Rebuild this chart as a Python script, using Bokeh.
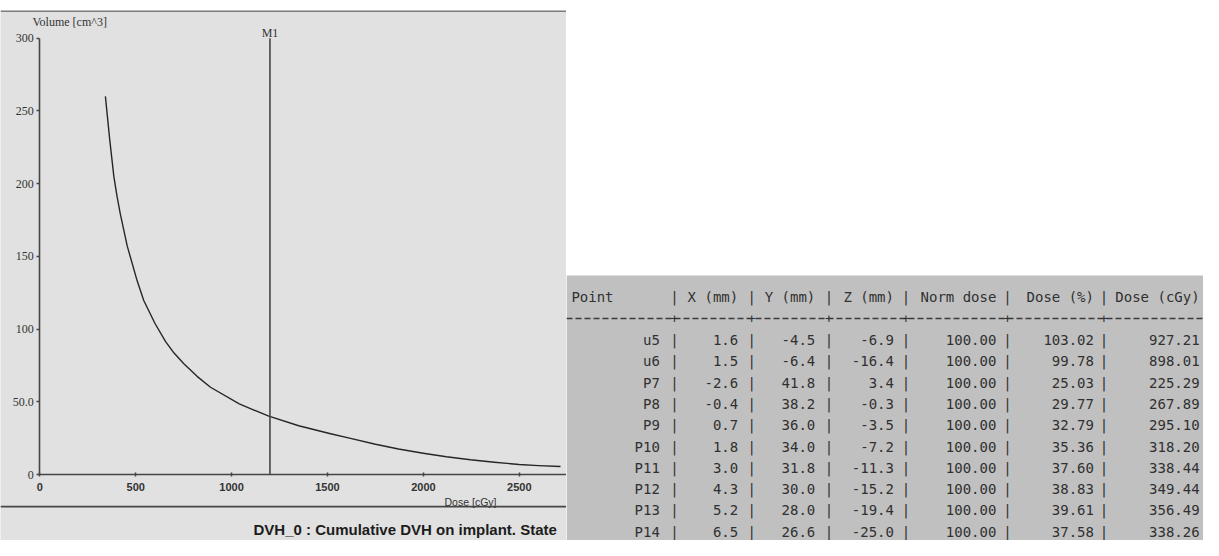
from bokeh.plotting import figure
from bokeh.models import Range1d, FixedTicker, Span, Label, ColumnDataSource
from bokeh.layouts import row
from bokeh.embed import file_html
from bokeh.resources import INLINE
from bokeh.core.properties import value

# ---------------- data ----------------
dose_cgy = [342, 364, 386, 403, 420, 456, 508, 542, 600, 655, 700, 751, 820, 890,
            1040, 1194, 1350, 1516, 1620, 1750, 1870, 1999, 2120, 2245, 2370,
            2499, 2600, 2715]
volume_cm3 = [260, 231, 205, 191, 179, 157, 133, 119.6, 104, 91.5, 83.5, 76.1, 67.5,
              60, 48.5, 40.1, 33.5, 28.0, 24.8, 20.8, 17.5, 14.6, 12.2, 10.1, 8.4,
              6.9, 6.1, 5.5]
marker_dose = 1200
marker_name = "M1"
x_ticks = [0, 500, 1000, 1500, 2000, 2500]
y_ticks = [0, 50, 100, 150, 200, 250, 300]

point_names = ["u5", "u6", "P7", "P8", "P9", "P10", "P11", "P12", "P13", "P14"]
x_mm = [1.6, 1.5, -2.6, -0.4, 0.7, 1.8, 3.0, 4.3, 5.2, 6.5]
y_mm = [-4.5, -6.4, 41.8, 38.2, 36.0, 34.0, 31.8, 30.0, 28.0, 26.6]
z_mm = [-6.9, -16.4, 3.4, -0.3, -3.5, -7.2, -11.3, -15.2, -19.4, -25.0]
norm_dose = [100.00] * 10
dose_pct = [103.02, 99.78, 25.03, 29.77, 32.79, 35.36, 37.60, 38.83, 39.61, 37.58]
dose_abs = [927.21, 898.01, 225.29, 267.89, 295.10, 318.20, 338.44, 349.44, 356.49, 338.26]
headers = ["Point", "X (mm)", "Y (mm)", "Z (mm)", "Norm dose", "Dose (%)", "Dose (cGy)"]

# ---------------- layout (pixels of the picture) ----------------
W, H = 1203, 540
REF_W, REF_H = 1219, 556
SPLIT = 566                      # chart panel / table boundary
LEFT_W = SPLIT
RIGHT_W = W - SPLIT
TOP = 10                         # white strip above the panel
X0_PX, X_SCALE = 39.3, 0.1918    # px of dose 0, px per cGy
Y0_PX, Y_SCALE = 474.0, 1.4543   # px of volume 0, px per cm^3
LABEL_ROW = 488                  # x tick labels stay where they are


def px2dose(px):
    return (px - X0_PX) / X_SCALE


def px2vol(py):
    return (Y0_PX - py) / Y_SCALE


def low(py):
    # squeeze the strip below the tick labels so it fits the page height
    return LABEL_ROW + (py - LABEL_ROW) * (H - LABEL_ROW) / (REF_H - LABEL_ROW)


AX = "#464646"
INK = "#262626"
LBL = "#333333"

# ---------------- DVH chart ----------------
p = figure(width=LEFT_W, height=H,
           x_range=Range1d(px2dose(0), px2dose(SPLIT)),
           y_range=Range1d(px2vol(H), px2vol(TOP)),
           output_backend="svg", toolbar_location=None,
           min_border_left=0, min_border_right=0, min_border_bottom=0,
           min_border_top=TOP)
p.background_fill_color = "#e1e1e1"
p.border_fill_color = "white"
p.outline_line_color = None
p.grid.visible = False

p.xaxis.fixed_location = 0
p.yaxis.fixed_location = 0
p.xaxis.bounds = (0, px2dose(SPLIT))
p.yaxis.bounds = (0, 300)
p.xaxis.ticker = FixedTicker(ticks=x_ticks)
p.yaxis.ticker = FixedTicker(ticks=y_ticks)
p.yaxis.major_label_overrides = {50: "50.0"}
p.axis.minor_tick_line_color = None
p.axis.axis_line_color = AX
p.axis.axis_line_width = 1.6
p.axis.major_tick_line_color = AX
p.axis.major_tick_line_width = 1.5
p.xaxis.major_tick_in = 2
p.xaxis.major_tick_out = 2
p.xaxis.major_label_standoff = 6
p.yaxis.major_tick_in = 0
p.yaxis.major_tick_out = 3
p.yaxis.major_label_standoff = 3
p.xaxis.major_label_text_font = "Liberation Sans"
p.xaxis.major_label_text_font_style = "bold"
p.xaxis.major_label_text_font_size = "11px"
p.xaxis.major_label_text_color = LBL
p.yaxis.major_label_text_font = "Liberation Serif"
p.yaxis.major_label_text_font_size = "12px"
p.yaxis.major_label_text_color = LBL

p.line(dose_cgy, volume_cm3, line_color=INK, line_width=1.4,
       line_join="round")
p.segment(x0=[marker_dose], y0=[0], x1=[marker_dose], y1=[y_ticks[-1]],
          line_color=AX, line_width=1.6)
p.add_layout(Label(x=marker_dose, y=px2vol(32), text=marker_name,
                   text_align="center", text_baseline="middle",
                   text_font="Liberation Serif", text_font_size="12px",
                   text_color=LBL))
p.add_layout(Label(x=px2dose(32), y=px2vol(21), text="Volume [cm^3]",
                   text_align="left", text_baseline="middle",
                   text_font="Liberation Serif", text_font_size="12px",
                   text_color=LBL))
p.add_layout(Label(x=px2dose(470), y=px2vol(low(506)), text="Dose [cGy]",
                   text_align="center", text_baseline="middle",
                   text_font="Liberation Sans", text_font_size="10.5px",
                   text_color=LBL))
p.add_layout(Label(x=px2dose(253), y=px2vol(low(541)),
                   text="DVH_0 : Cumulative DVH on implant. State",
                   text_align="left", text_baseline="middle",
                   text_font="Liberation Sans", text_font_size="15px",
                   text_font_style="bold", text_color="#1c1c1c"))
p.add_layout(Span(location=px2vol(TOP + 0.5), dimension="width",
                  line_color="#5a5a5a", line_width=1.5))
p.add_layout(Span(location=px2vol(low(511.7)), dimension="width",
                  line_color=AX, line_width=1.6))

# ---------------- table ----------------
TBL_TOP = 275
KX = RIGHT_W / (REF_W - SPLIT)


def tx(x):
    # table column position (reference px) -> page px
    return SPLIT + (x - SPLIT) * KX


t = figure(width=RIGHT_W, height=H,
           x_range=Range1d(SPLIT, W),
           y_range=Range1d(H, TOP),
           output_backend="svg", toolbar_location=None,
           x_axis_location=None, y_axis_location=None,
           min_border_left=0, min_border_right=0, min_border_bottom=0,
           min_border_top=TOP)
t.background_fill_color = "white"
t.border_fill_color = "white"
t.outline_line_color = None
t.grid.visible = False
t.quad(left=[SPLIT], right=[W], top=[TBL_TOP], bottom=[H],
       fill_color="#c0c0c0", line_color=None)

HEADER_Y = 296
DASH_Y = 318
ROW0_Y = 339.5
ROW_H = 21.3
POINT_LEFT = tx(571)
col_right = [tx(v) for v in [661.7, 742, 821, 901.7, 1006.7, 1106.7, 1215]]
pipe_x = [tx(v) for v in [676.7, 755.8, 835, 914, 1018, 1117]]
FONT = value("DejaVu Sans Mono")
FS = "14px"
TXT = "#303030"

row_y = [ROW0_Y + i * ROW_H for i in range(len(point_names))]
cells = ColumnDataSource(dict(
    y=row_y,
    name=point_names,
    xs=[f"{v:.1f}" for v in x_mm],
    ys=[f"{v:.1f}" for v in y_mm],
    zs=[f"{v:.1f}" for v in z_mm],
    norm=[f"{v:.2f}" for v in norm_dose],
    pct=[f"{v:.2f}" for v in dose_pct],
    cgy=[f"{v:.2f}" for v in dose_abs],
))
for cx, field in zip(col_right, ["name", "xs", "ys", "zs", "norm", "pct", "cgy"]):
    t.text(x=cx, y="y", text=field, source=cells, text_align="right",
           text_baseline="middle", text_font=FONT, text_font_size=FS,
           text_color=TXT)

# header
t.text(x=[POINT_LEFT], y=[HEADER_Y], text=[headers[0]], text_align="left",
       text_baseline="middle", text_font=FONT, text_font_size=FS, text_color=TXT)
t.text(x=col_right[1:], y=[HEADER_Y] * (len(headers) - 1), text=headers[1:],
       text_align="right", text_baseline="middle", text_font=FONT,
       text_font_size=FS, text_color=TXT)

# separators
px_all, py_all = [], []
for yy in [HEADER_Y] + row_y:
    for xx in pipe_x:
        px_all.append(xx)
        py_all.append(yy)
t.text(x=px_all, y=py_all, text=["|"] * len(px_all), text_align="center",
       text_baseline="middle", text_font=FONT, text_font_size=FS, text_color=TXT)

t.line(x=[SPLIT, W], y=[DASH_Y, DASH_Y],
       line_color="#3a3a3a", line_width=1.4, line_dash="6 3")
t.text(x=pipe_x, y=[DASH_Y] * len(pipe_x), text=["+"] * len(pipe_x),
       text_align="center", text_baseline="middle", text_font=FONT,
       text_font_size="13px", text_color=TXT)

layout = row(p, t)
open("out.html", "w").write(file_html(layout, INLINE))
